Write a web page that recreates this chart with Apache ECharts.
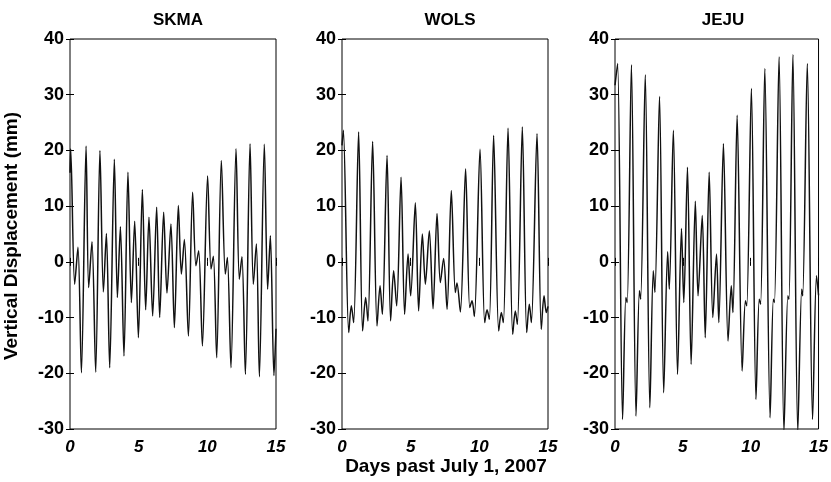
<!DOCTYPE html>
<html>
<head>
<meta charset="utf-8">
<script src="https://cdn.jsdelivr.net/npm/echarts@6/dist/echarts.min.js"></script>
<style>
  html, body { margin: 0; padding: 0; background: #fff; }
  #main { width: 831px; height: 482px; }
</style>
</head>
<body>
<div id="main"></div>
<script>
// station names
var stations = ['SKMA', 'WOLS', 'JEJU'];

// tick labels
var xTicks = [0, 5, 10, 15];
var yTicks = [-30, -20, -10, 0, 10, 20, 30, 40];

// turning points (days, mm)
var skmaDays = [0, 0.05, 0.34, 0.58, 0.83, 1.17, 1.36, 1.60, 1.87, 2.18, 2.43, 2.65, 2.89, 3.23, 3.45, 3.67, 3.93,
  4.22, 4.47, 4.71, 4.98, 5.27, 5.51, 5.75, 6.02, 6.31, 6.53, 6.82, 7.06, 7.35, 7.60, 7.89, 8.11, 8.33, 8.62,
  8.93, 9.17, 9.37, 9.64, 10.02, 10.27, 10.44, 10.68, 11.02, 11.31, 11.46, 11.72, 12.09, 12.33, 12.52, 12.77,
  13.11, 13.35, 13.57, 13.79, 14.15, 14.39, 14.59, 14.85, 15];
var skmaVals = [16, 20.3, -4.0, 2.6, -19.9, 20.8, -4.6, 3.6, -19.8, 20.0, -5.4, 5.1, -19.0, 18.4, -6.4, 6.3, -16.9,
  16.1, -7.3, 7.3, -13.6, 13.0, -8.6, 8.0, -9.7, 9.8, -10.0, 8.9, -5.6, 6.8, -11.8, 10.1, -2.2, 4.0, -13.3,
  12.5, -0.7, 2.0, -15.1, 15.4, -1.3, 1.0, -17.2, 18.2, -2.2, 0.8, -19.0, 20.3, -3.1, 0.9, -20.2,
  21.2, -4.0, 3.2, -20.6, 21.1, -4.9, 4.7, -20.4, -12];

var wolsDays = [0, 0.10, 0.49, 0.68, 0.85, 1.21, 1.50, 1.72, 1.89, 2.23, 2.55, 2.77, 2.94, 3.28, 3.54, 3.76, 3.98,
  4.30, 4.56, 4.81, 5.00, 5.34, 5.58, 5.85, 6.07, 6.36, 6.63, 6.92, 7.16, 7.40, 7.65, 7.96, 8.25, 8.37, 8.62,
  9.00, 9.30, 9.47, 9.64, 10.05, 10.39, 10.56, 10.73, 11.04, 11.41, 11.60, 11.75, 12.09, 12.43, 12.62, 12.77,
  13.13, 13.45, 13.64, 13.79, 14.20, 14.51, 14.71, 14.88, 15];
var wolsVals = [20.9, 23.6, -12.7, -7.9, -10.9, 23.3, -12.4, -6.4, -10.6, 21.6, -11.5, -4.3, -9.4, 19.1, -10.6, -1.6, -7.9,
  15.2, -9.4, 1.4, -6.1, 10.6, -8.8, 5.0, -4.0, 5.6, -8.4, 8.7, -3.7, 0.6, -8.5, 12.8, -5.5, -3.8, -9.0,
  16.7, -8.2, -7.0, -9.8, 20.2, -10.9, -8.6, -10.3, 22.7, -12.4, -9.1, -10.9, 24.0, -13.0, -8.8, -11.2,
  24.2, -12.7, -7.6, -10.9, 23.0, -12.1, -6.1, -9.1, -8];

var jejuDays = [0, 0.19, 0.56, 0.80, 0.90, 1.21, 1.55, 1.80, 1.89, 2.23, 2.57, 2.82, 2.94, 3.28, 3.59, 3.88, 4.00,
  4.30, 4.61, 4.90, 5.07, 5.34, 5.61, 5.92, 6.12, 6.43, 6.65, 6.94, 7.21, 7.48, 7.65, 7.99, 8.33, 8.57, 8.69,
  9.00, 9.37, 9.61, 9.71, 10.05, 10.39, 10.63, 10.73, 11.04, 11.43, 11.67, 11.75, 12.09, 12.45, 12.74, 12.82,
  13.11, 13.47, 13.76, 13.83, 14.17, 14.56, 14.85, 15];
var jejuVals = [31.7, 35.6, -28.3, -6.4, -7.3, 35.4, -27.7, -5.2, -6.7, 33.6, -26.2, -1.6, -5.5, 29.7, -23.5, 1.8, -4.9,
  23.6, -20.2, 6.0, -7.3, 17.0, -18.4, 10.9, -6.1, 8.3, -13.6, 16.1, -10.0, 1.4, -10.9, 21.2, -14.2, -4.3, -9.1,
  26.3, -19.6, -7.0, -7.9, 31.1, -24.7, -6.7, -7.6, 34.7, -28.0, -6.7, -7.3, 36.8, -30.5, -6.1, -6.7,
  37.2, -30.5, -4.9, -6.1, 35.6, -28.3, -2.5, -6];

var allDays = [skmaDays, wolsDays, jejuDays];
var allVals = [skmaVals, wolsVals, jejuVals];

var lefts = [70, 342, 615];
var gridTop = 39, gridH = 390, gridW = 206;
var font = 'Liberation Sans, Arial, sans-serif';

var chart = echarts.init(document.getElementById('main'));

var grids = [], xAxes = [], yAxes = [], series = [], titles = [];
stations.forEach(function (name, i) {
  grids.push({ left: lefts[i], top: gridTop, width: gridW, height: gridH,
    show: true, borderColor: '#000', borderWidth: 1 });
  var xBase = { gridIndex: i, type: 'value', min: 0, max: 15, interval: 5,
    axisLine: { show: false }, splitLine: { show: false },
    axisTick: { inside: true, length: 4, lineStyle: { color: '#000' } } };
  xAxes.push(Object.assign({}, xBase, { position: 'bottom',
    axisLabel: { color: '#000', fontFamily: font, fontWeight: 'bold', fontStyle: 'italic', fontSize: 17, margin: 10 } }));
  xAxes.push(Object.assign({}, xBase, { position: 'top', axisLabel: { show: false } }));
  var yBase = { gridIndex: i, type: 'value', min: -30, max: 40, interval: 10,
    axisLine: { show: false }, splitLine: { show: false },
    axisTick: { inside: true, length: 4, lineStyle: { color: '#000' } } };
  yAxes.push(Object.assign({}, yBase, { position: 'left',
    axisLabel: { color: '#000', fontFamily: font, fontWeight: 'bold', fontSize: 18, margin: 6 } }));
  yAxes.push(Object.assign({}, yBase, { position: 'right', axisLabel: { show: false } }));

  series.push({
    type: 'line', xAxisIndex: i * 2, yAxisIndex: i * 2,
    data: allDays[i].map(function (d, k) { return [d, allVals[i][k]]; }),
    showSymbol: false, smooth: 0.3,
    lineStyle: { color: '#111', width: 1.5 }
  });
  titles.push({ text: name, left: lefts[i] + gridW / 2, top: 7, textAlign: 'center',
    textStyle: { fontFamily: font, fontWeight: 'bold', fontSize: 17, color: '#000' } });
});

chart.setOption({
  backgroundColor: '#fff',
  animation: false,
  title: titles,
  grid: grids,
  xAxis: xAxes,
  yAxis: yAxes,
  series: series,
  graphic: [
    { type: 'text', x: 446, y: 457,
      style: { text: 'Days past July 1, 2007', font: 'bold 19px ' + font, fill: '#000', align: 'center' } },
    { type: 'text', x: 2, y: 236, rotation: Math.PI / 2, originX: 0, originY: 0,
      style: { text: 'Vertical Displacement (mm)', font: 'bold 19px ' + font, fill: '#000',
        align: 'center', verticalAlign: 'top' } }
  ]
});
</script>
</body>
</html>
